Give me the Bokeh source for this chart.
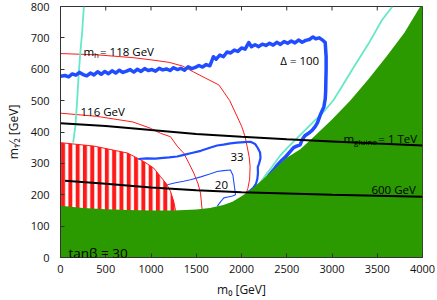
from bokeh.plotting import figure
from bokeh.models import Label, Range1d, FixedTicker
from bokeh.embed import file_html
from bokeh.resources import INLINE

FONT = "Open Sans"

# ---------------- data ----------------
x_ticks = [0, 500, 1000, 1500, 2000, 2500, 3000, 3500, 4000]
y_ticks = [0, 100, 200, 300, 400, 500, 600, 700, 800]
x_title = "m₀ [GeV]"
y_title = "m₁⁄₂ [GeV]"

# excluded (green) region boundary
green_m0 = [0, 250, 500, 750, 1000, 1250, 1500, 1650, 1800, 1900, 2000, 2100, 2200,
            2300, 2400, 2500, 2650, 2800, 3000, 3200, 3400, 3600, 3800, 3975]
green_m12 = [165, 158, 154, 151, 150, 150, 153, 158, 167, 178, 195, 215, 240,
             265, 292, 318, 345, 385, 440, 500, 567, 640, 716, 800]

# LEP Higgs bound (red hatched region) upper edge
hatch_m0 = [0, 370, 740, 920, 1030, 1105, 1170, 1215, 1250, 1271, 1280]
hatch_m12 = [366, 355, 333, 306, 285, 258, 235, 211, 180, 150, 100]

# Higgs mass contours
mh118_m0 = [0, 400, 800, 1000, 1200, 1350, 1473, 1600, 1750, 1870, 1970, 2003, 2040,
            2063, 2085, 2095, 2090, 2070, 2045]
mh118_m12 = [650, 646, 637, 630, 622, 610, 591, 572, 550, 500, 438, 417, 385,
             353, 320, 290, 250, 220, 200]
mh116_m0 = [0, 400, 800, 994, 1105, 1215, 1289, 1363, 1420, 1473, 1520, 1547, 1565]
mh116_m12 = [460, 450, 432, 412, 396, 385, 355, 332, 300, 269, 235, 205, 152]

# cyan contours
cyanL_m0 = [258, 240, 221, 200, 184, 165, 140]
cyanL_m12 = [800, 720, 660, 580, 500, 420, 366]
cyanR_m0 = [3668, 3551, 3403, 3219, 3108, 3017, 2925, 2814, 2703, 2611, 2501, 2420,
            2340, 2284, 2230, 2173, 2140]
cyanR_m12 = [800, 756, 681, 597, 544, 502, 470, 438, 406, 380, 348, 322,
             290, 269, 248, 226, 215]

# fine-tuning contours
d100_m0 = [0, 50, 90, 130, 170, 210, 250, 290, 330, 370, 410, 450, 490, 530, 570, 610,
           650, 690, 730, 770, 810, 850, 890, 930, 970, 1010, 1050, 1090, 1130, 1170,
           1210, 1250, 1290, 1330, 1370, 1410, 1450, 1490, 1530, 1570, 1610, 1650, 1690,
           1720, 1760, 1800, 1840, 1880, 1920, 1960, 2000, 2040, 2080, 2110, 2150, 2190,
           2230, 2270, 2310, 2350, 2390, 2430, 2470, 2510, 2550, 2590, 2630, 2670, 2710,
           2750, 2790, 2820, 2860, 2900, 2925, 2935, 2935, 2932, 2930, 2925, 2910, 2870,
           2840, 2814, 2780, 2740, 2700, 2670, 2648, 2610, 2575, 2530, 2490, 2449, 2400,
           2354, 2300, 2243, 2170, 2099]
d100_m12 = [578, 580, 576, 585, 581, 590, 583, 579, 588, 582, 592, 584, 593, 586, 595, 588,
            597, 590, 594, 599, 591, 600, 593, 602, 596, 599, 594, 603, 598, 601,
            596, 605, 599, 603, 597, 608, 602, 606, 612, 607, 615, 611, 640,
            632, 645, 640, 655, 652, 661, 657, 668, 664, 685, 672, 678, 672,
            680, 676, 683, 677, 686, 679, 688, 683, 690, 684, 693, 686, 692,
            695, 703, 697, 700, 692, 685, 640, 600, 560, 530, 505, 480, 454,
            430, 417, 405, 396, 388, 375, 359, 355, 350, 335, 322, 311, 296,
            279, 260, 238, 222, 206]
d33_m0 = [862, 950, 1050, 1105, 1200, 1289, 1363, 1450, 1550, 1650, 1731, 1800, 1878,
          1950, 2030, 2099, 2150, 2180, 2205, 2210, 2195, 2180, 2182, 2175, 2160, 2130,
          2090, 2063]
d33_m12 = [314, 316, 315, 317, 319, 322, 327, 333, 340, 350, 357, 360, 364,
           366, 368, 369, 362, 349, 335, 317, 300, 288, 270, 250, 235, 222,
           212, 206]
d20_m0 = [1180, 1271, 1360, 1436, 1550, 1650, 1731, 1800, 1878, 1905, 1915, 1925, 1934,
          1900, 1850, 1805, 1770, 1731]
d20_m12 = [232, 238, 243, 248, 257, 266, 274, 277, 279, 262, 240, 220, 200,
           196, 193, 190, 178, 163]

# gluino mass lines
gl1000_m0 = [0, 500, 1000, 1500, 2000, 2500, 3000, 3500, 4000]
gl1000_m12 = [428, 419, 406, 394, 385, 377, 370, 363, 357]
gl600_m0 = [50, 500, 1000, 1500, 2000, 2500, 3000, 3500, 4000]
gl600_m12 = [245, 235, 223, 214, 208, 204, 200, 197, 194]

# ---------------- colours ----------------
GREEN = "#2a9a00"
RED = "#ff1a1a"
BLUE = "#1f4dff"
CYAN = "#66e8c8"

# ---------------- layout ----------------
W_PX, H_PX = 437, 300
BL, BR, BT, BB = 60, 15, 6, 42
FRAME_W = W_PX - BL - BR
FRAME_H = H_PX - BT - BB
X0, X1, Y0, Y1 = 0, 4000, 0, 800
TICK = 4

p = figure(width=W_PX, height=H_PX, x_range=Range1d(X0, X1), y_range=Range1d(Y0, Y1),
           output_backend="svg", toolbar_location=None,
           min_border_left=BL, min_border_right=BR, min_border_top=BT, min_border_bottom=BB)
p.grid.visible = False
p.outline_line_color = "#333333"
p.background_fill_color = "white"
p.border_fill_color = "white"

for ax, tk in ((p.xaxis[0], x_ticks), (p.yaxis[0], y_ticks)):
    ax.ticker = FixedTicker(ticks=tk)
    ax.major_tick_in = TICK
    ax.major_tick_out = 0
    ax.minor_tick_line_color = None
    ax.axis_line_color = "#333333"
    ax.major_tick_line_color = "#333333"
    ax.major_label_text_font = FONT
    ax.major_label_text_font_size = "11px"
    ax.major_label_text_color = "#111111"
    ax.axis_label_text_font = FONT
    ax.axis_label_text_font_size = "12px"
    ax.axis_label_text_font_style = "normal"
    ax.axis_label_text_color = "#111111"
p.xaxis[0].major_label_standoff = 7
p.yaxis[0].major_label_standoff = 11
p.xaxis[0].axis_label = x_title
p.yaxis[0].axis_label = y_title
p.xaxis[0].axis_label_standoff = 5
p.yaxis[0].axis_label_standoff = 6

# mirrored inward ticks on the top and right frame edges
dy_tick = TICK * (Y1 - Y0) / FRAME_H
dx_tick = TICK * (X1 - X0) / FRAME_W
p.segment(x0=x_ticks, x1=x_ticks, y0=[Y1] * len(x_ticks), y1=[Y1 - dy_tick] * len(x_ticks),
          line_color="#333333", line_width=1)
p.segment(x0=[X1] * len(y_ticks), x1=[X1 - dx_tick] * len(y_ticks), y0=y_ticks, y1=y_ticks,
          line_color="#333333", line_width=1)

# hatched region
p.patch(hatch_m0 + [hatch_m0[-1], 0], hatch_m12 + [0, 0], fill_alpha=0, line_color=None,
        hatch_pattern="|", hatch_color=RED, hatch_scale=7.3, hatch_weight=4)
p.line(hatch_m0, hatch_m12, line_color=RED, line_width=1)

# contours
p.line(mh118_m0, mh118_m12, line_color=RED, line_width=1)
p.line(mh116_m0, mh116_m12, line_color=RED, line_width=1)
p.line(cyanL_m0, cyanL_m12, line_color=CYAN, line_width=1.8)
p.line(cyanR_m0, cyanR_m12, line_color=CYAN, line_width=1.8)
p.line(d100_m0, d100_m12, line_color=BLUE, line_width=3.5, line_join="round")
p.line(d33_m0, d33_m12, line_color=BLUE, line_width=2.2, line_join="round")
p.line(d20_m0, d20_m12, line_color=BLUE, line_width=1.1)

# excluded region
p.patch([0] + green_m0 + [4000, 4000], [0] + green_m12 + [800, 0],
        fill_color=GREEN, line_color=None)

# gluino lines
p.line(gl1000_m0, gl1000_m12, line_color="black", line_width=2)
p.line(gl600_m0, gl600_m12, line_color="black", line_width=2)

# ---------------- text ----------------
W = {" ": .26, "=": .571, "G": .73, "e": .561, "V": .56, "T": .554, "m": .924, "h": .614,
     "g": .549, "l": .266, "u": .614, "i": .253, "n": .614, "o": .604, "[": .325,
     "]": .325, "/": .367, "t": .352, "a": .556, "β": .6, "Δ": .63}


def tw(s, size):
    return sum(W.get(c, .572) for c in s) * size


def compound(parts, x, y, color="black"):
    off = 0.0
    for text, size, dy in parts:
        p.add_layout(Label(text=text, x=x, y=y, x_offset=off, y_offset=dy,
                           text_font=FONT, text_font_size=f"{size}px", text_color=color,
                           text_baseline="alphabetic", text_align="left"))
        off += tw(text, size) + (1.0 if dy else 0.0)


S = 11.5
compound([("m", S, 0), ("h", 8, -3), (" = 118 GeV", S, 0)], 254, 657)
compound([("116 GeV", S, 0)], 221, 464)
compound([("Δ = 100", S, 0)], 2428, 629)
compound([("33", S, 0)], 1878, 320)
compound([("20", S, 0)], 1705, 232)
compound([("m", S, 0), ("gluino", 8, -3), (" = 1 TeV", S, 0)], 3127, 380)
compound([("600 GeV", S, 0)], 3436, 216)
compound([("tanβ = 30", 13.5, 0)], 88, 13)

open("out.html", "w").write(file_html(p, INLINE))
